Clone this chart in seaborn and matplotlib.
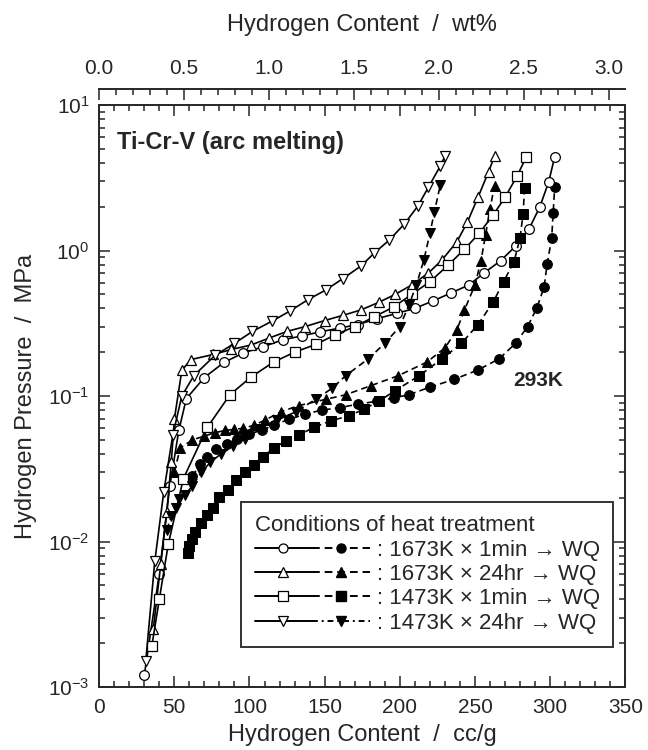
import numpy as np
import pandas as pd
import matplotlib
matplotlib.use("Agg")
import matplotlib.pyplot as plt
import seaborn as sns
from matplotlib.ticker import MultipleLocator, LogLocator, NullFormatter, FixedLocator
from matplotlib.legend_handler import HandlerTuple
from matplotlib.lines import Line2D

# absorption (open) and desorption (filled) isotherms, cc/g vs MPa
c1_abs_x = [30, 40, 47, 53, 58, 70, 83, 96, 109, 122, 135, 147, 160, 172, 185, 198, 210, 222, 234, 246, 256, 267, 277, 286, 293, 299, 303]
c1_abs_p = [0.0012, 0.006, 0.024, 0.058, 0.096, 0.134, 0.17, 0.198, 0.218, 0.243, 0.259, 0.276, 0.293, 0.31, 0.34, 0.37, 0.40, 0.45, 0.51, 0.58, 0.70, 0.85, 1.07, 1.41, 1.98, 2.95, 4.4]
c1_des_x = [62, 67, 72, 78, 85, 92, 100, 108, 116, 126, 137, 148, 160, 172, 185, 196, 206, 220, 236, 252, 266, 277, 285, 291, 296, 298, 301, 302, 303]
c1_des_p = [0.028, 0.034, 0.038, 0.043, 0.047, 0.051, 0.055, 0.058, 0.063, 0.069, 0.075, 0.080, 0.083, 0.088, 0.092, 0.097, 0.102, 0.115, 0.130, 0.151, 0.18, 0.23, 0.30, 0.40, 0.56, 0.81, 1.21, 1.81, 2.72]

c2_abs_x = [36, 41, 45, 48, 50, 55, 61, 76, 88, 101, 113, 125, 137, 150, 162, 174, 186, 197, 208, 219, 228, 238, 245, 252, 259, 263]
c2_abs_p = [0.0025, 0.007, 0.016, 0.035, 0.069, 0.15, 0.178, 0.193, 0.209, 0.224, 0.25, 0.278, 0.30, 0.33, 0.358, 0.39, 0.44, 0.50, 0.58, 0.70, 0.86, 1.15, 1.57, 2.32, 3.47, 4.45]
c2_des_x = [50, 54, 62, 70, 77, 84, 90, 96, 103, 110, 121, 133, 151, 164, 181, 199, 218, 230, 238, 243, 250, 254, 257, 260, 263]
c2_des_p = [0.030, 0.044, 0.050, 0.053, 0.056, 0.058, 0.059, 0.060, 0.063, 0.068, 0.078, 0.086, 0.095, 0.102, 0.118, 0.138, 0.171, 0.214, 0.285, 0.39, 0.58, 0.85, 1.28, 1.94, 2.79]

c3_abs_x = [35, 40, 46, 56, 72, 87, 101, 116, 130, 144, 157, 170, 183, 196, 208, 220, 232, 243, 253, 262, 270, 278, 284]
c3_abs_p = [0.0019, 0.004, 0.0096, 0.027, 0.061, 0.102, 0.135, 0.171, 0.20, 0.226, 0.263, 0.30, 0.35, 0.41, 0.50, 0.61, 0.79, 1.02, 1.32, 1.75, 2.32, 3.25, 4.37]
c3_des_x = [59, 60, 62, 64, 68, 72, 76, 80, 86, 91, 97, 103, 109, 116, 124, 133, 143, 154, 166, 176, 186, 197, 213, 228, 241, 252, 262, 269, 276, 280, 282, 283]
c3_des_p = [0.0084, 0.0093, 0.0104, 0.0116, 0.0133, 0.0153, 0.0171, 0.0201, 0.0227, 0.0265, 0.030, 0.0335, 0.038, 0.044, 0.0488, 0.054, 0.061, 0.0675, 0.073, 0.081, 0.092, 0.109, 0.138, 0.18, 0.23, 0.31, 0.44, 0.61, 0.84, 1.22, 1.79, 2.69]

c4_abs_x = [31, 37, 43, 49, 55, 63, 77, 90, 102, 115, 127, 139, 151, 162, 174, 183, 193, 203, 212, 219, 227, 230]
c4_abs_p = [0.0015, 0.0073, 0.022, 0.054, 0.10, 0.138, 0.19, 0.23, 0.278, 0.327, 0.384, 0.46, 0.537, 0.64, 0.78, 0.96, 1.18, 1.52, 2.02, 2.72, 3.82, 4.45]
c4_des_x = [45, 48, 51, 53, 57, 62, 68, 74, 81, 89, 97, 107, 118, 131, 144, 155, 164, 179, 190, 200, 206, 211, 216, 220, 223, 227]
c4_des_p = [0.012, 0.015, 0.017, 0.0196, 0.021, 0.024, 0.030, 0.035, 0.040, 0.045, 0.051, 0.059, 0.068, 0.078, 0.095, 0.113, 0.138, 0.18, 0.23, 0.30, 0.42, 0.58, 0.86, 1.31, 1.84, 2.84]

labels = [": 1673K \u00d7 1min \u2192 WQ", ": 1673K \u00d7 24hr \u2192 WQ",
          ": 1473K \u00d7 1min \u2192 WQ", ": 1473K \u00d7 24hr \u2192 WQ"]
markers = ["o", "^", "s", "v"]
des_styles = [(0, (4, 2.5)), (0, (4, 2.5)), (0, (4, 2.5)), (0, (4, 2.5))]
leg_des_styles = [(0, (4, 2.5)), (0, (4, 2.5)), (0, (4, 2.5)), (0, (3, 2, 1, 2))]
wt_ticks = [0.0, 0.5, 1.0, 1.5, 2.0, 2.5, 3.0]

sns.set_style("ticks")
plt.rcParams['font.family'] = ['Liberation Sans', 'Noto Sans CJK JP', 'DejaVu Sans']
plt.rcParams['mathtext.fontset'] = 'custom'
plt.rcParams['mathtext.rm'] = 'Liberation Sans'

fig, ax = plt.subplots(figsize=(6.48, 7.5), dpi=100)
fig.subplots_adjust(left=0.153, right=0.965, bottom=0.084, top=0.86)

series = [(c1_abs_x, c1_abs_p, c1_des_x, c1_des_p),
          (c2_abs_x, c2_abs_p, c2_des_x, c2_des_p),
          (c3_abs_x, c3_abs_p, c3_des_x, c3_des_p),
          (c4_abs_x, c4_abs_p, c4_des_x, c4_des_p)]

handles = []
for (ax_x, ax_p, dx, dp), m, ds, lds in zip(series, markers, des_styles, leg_des_styles):
    d_abs = pd.DataFrame({'cc': ax_x, 'p': ax_p})
    d_des = pd.DataFrame({'cc': dx, 'p': dp})
    ms = 7.5 if m in "^v" else 7
    sns.lineplot(data=d_des, x='cc', y='p', ax=ax, sort=False, estimator=None,
                 color='black', linewidth=1.2, linestyle=ds, marker=m,
                 markersize=ms, markerfacecolor='black', markeredgecolor='black')
    sns.lineplot(data=d_abs, x='cc', y='p', ax=ax, sort=False, estimator=None,
                 color='black', linewidth=1.2, linestyle='-', marker=m,
                 markersize=ms, markerfacecolor='white', markeredgecolor='black',
                 markeredgewidth=0.9)
    h_open = Line2D([], [], color='black', lw=1.4, ls='-', marker=m, ms=6.5,
                    mfc='white', mec='black', mew=0.9)
    h_fill = Line2D([], [], color='black', lw=1.4, ls=lds, marker=m, ms=6.5,
                    mfc='black', mec='black')
    handles.append((h_open, h_fill))

ax.set_yscale('log')
ax.set_xlim(0, 350)
ax.set_ylim(1e-3, 10)
ax.xaxis.set_major_locator(MultipleLocator(50))
ax.xaxis.set_minor_locator(MultipleLocator(10))
ax.yaxis.set_major_locator(LogLocator(base=10))
ax.yaxis.set_minor_locator(LogLocator(base=10, subs=np.arange(2, 10)))
ax.yaxis.set_minor_formatter(NullFormatter())
ax.tick_params(which='both', direction='in', top=True, right=True, width=1.1, labelsize=15)
ax.tick_params(which='major', length=8)
ax.tick_params(which='minor', length=4)
ax.tick_params(axis='x', which='major', pad=8)
ax.tick_params(axis='y', which='major', pad=7)
for s in ax.spines.values():
    s.set_linewidth(1.4)

ax.set_xlabel("Hydrogen Content  /  cc/g", fontsize=17, labelpad=5)
ax.set_ylabel("Hydrogen Pressure  /  MPa", fontsize=17, labelpad=8)

sec = ax.secondary_xaxis(1.0275, functions=(lambda x: x / 113.0, lambda w: w * 113.0))
sec.xaxis.set_major_locator(FixedLocator(wt_ticks))
sec.xaxis.set_minor_locator(MultipleLocator(0.1))
sec.xaxis.set_major_formatter(matplotlib.ticker.FormatStrFormatter('%.1f'))
sec.tick_params(which='both', direction='in', width=1.1, labelsize=15, pad=8)
sec.tick_params(which='major', length=8)
sec.tick_params(which='minor', length=4)
sec.spines['top'].set_linewidth(1.4)
sec.set_xlabel("Hydrogen Content  /  wt%", fontsize=17, labelpad=20)

ax.text(0.034, 0.935, "Ti-Cr-V (arc melting)", transform=ax.transAxes, fontsize=17,
        fontweight='bold', va='center', ha='left')
ax.text(0.787, 0.527, "293K", transform=ax.transAxes, fontsize=15,
        fontweight='bold', va='center', ha='left')

leg = ax.legend(handles, labels, handler_map={tuple: HandlerTuple(ndivide=None, pad=0)},
                loc='lower right', bbox_to_anchor=(0.977, 0.069), fontsize=16,
                title="Conditions of heat treatment", title_fontsize=16,
                handlelength=5.2, handletextpad=0.3, labelspacing=0.15,
                frameon=True, fancybox=False, edgecolor='black', borderpad=0.6,
                borderaxespad=0, alignment='left')
leg.get_frame().set_linewidth(1.4)

fig.savefig("out.png", dpi=100)
